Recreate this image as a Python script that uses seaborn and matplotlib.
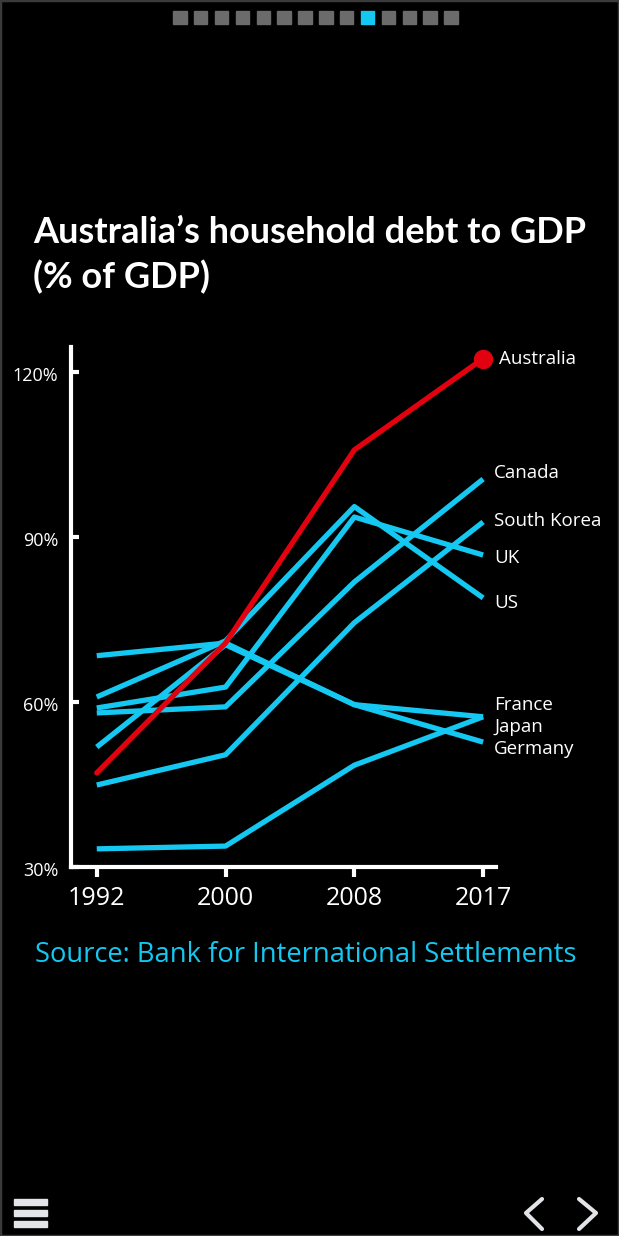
import numpy as np
import pandas as pd
import matplotlib
matplotlib.use('Agg')
import matplotlib.pyplot as plt
import matplotlib.transforms as mtransforms
from matplotlib.patches import Rectangle
from matplotlib.lines import Line2D
import seaborn as sns

# Data (% of GDP)
years = ['1992', '2000', '2008', '2017']
countries = ['Canada', 'UK', 'US', 'South Korea', 'Japan', 'Germany', 'France', 'Australia']
canada = [58.0, 59.1, 81.8, 100.5]
uk = [58.9, 62.7, 93.6, 86.7]
us = [60.9, 71.1, 95.5, 78.9]
south_korea = [44.9, 50.4, 74.4, 92.7]
japan = [68.4, 70.7, 59.5, 57.3]
germany = [51.8, 70.4, 59.5, 52.7]
france = [33.3, 33.8, 48.5, 57.3]
australia = [47.1, 70.7, 105.8, 122.4]

series = [canada, uk, us, south_korea, japan, germany, france, australia]
label_names = ['Australia', 'Canada', 'South Korea', 'UK', 'US', 'France', 'Japan', 'Germany']
label_y = [122.4, 101.6, 92.8, 86.2, 78.0, 59.5, 55.5, 51.5]
y_ticks = [30, 60, 90, 120]

BLUE = '#14c8f2'
RED = '#e3000f'
SANS = ['Open Sans', 'DejaVu Sans']

rows = []
for name, vals in zip(countries, series):
    for i, v in enumerate(vals):
        rows.append({'country': name, 'pos': i, 'value': v})
df = pd.DataFrame(rows)

sns.set_style('dark')
plt.rcParams['font.family'] = SANS

fig = plt.figure(figsize=(6.19, 12.36), dpi=100, facecolor='black')
ax = fig.add_axes([71 / 619, 1 - 867 / 1236, 425 / 619, 520 / 1236])
ax.set_facecolor('black')

blue_df = df[df['country'] != 'Australia']
sns.lineplot(data=blue_df, x='pos', y='value', hue='country', units='country',
             estimator=None, palette={c: BLUE for c in countries}, linewidth=3.8,
             legend=False, ax=ax, solid_capstyle='butt')
aus_df = df[df['country'] == 'Australia']
sns.lineplot(data=aus_df, x='pos', y='value', color=RED, linewidth=3.8,
             legend=False, ax=ax, zorder=5)
ax.plot(aus_df['pos'].iloc[-1], aus_df['value'].iloc[-1], 'o', color=RED,
        markersize=13, zorder=6, clip_on=False)

ax.set_xlim(-0.2, 3.1)
ax.set_ylim(30, 124.5)
ax.set_xticks(range(len(years)))
ax.set_xticklabels(years)
ax.set_yticks(y_ticks)
ax.set_yticklabels([f'{t}%' for t in y_ticks])
ax.set_xlabel('')
ax.set_ylabel('')
ax.grid(False)

for side in ['top', 'right']:
    ax.spines[side].set_visible(False)
for side in ['left', 'bottom']:
    ax.spines[side].set_visible(True)
    ax.spines[side].set_color('white')
    ax.spines[side].set_linewidth(3)

ax.tick_params(axis='x', direction='out', length=7, width=3, color='white',
               labelcolor='white', labelsize=18, pad=7, bottom=True)
ax.tick_params(axis='y', direction='in', length=6, width=3, color='white',
               labelcolor='white', labelsize=13, pad=9, left=True)
shift = mtransforms.ScaledTranslation(0, -4 / 100, fig.dpi_scale_trans)
for lab in ax.get_yticklabels():
    lab.set_verticalalignment('center')
    lab.set_transform(lab.get_transform() + shift)

# labels at line ends
for name, y in zip(label_names, label_y):
    xp = 3.12 if name == 'Australia' else 3.085
    ax.text(xp, y, name, color='white', fontsize=13.5, va='center', ha='left',
            clip_on=False)

# title and source
fig.text(33 / 619, 1 - 243 / 1236, 'Australia\u2019s household debt to GDP', color='white',
         fontsize=26, fontweight='bold', ha='left', va='baseline',
         family=['Lato', 'DejaVu Sans'])
fig.text(33 / 619, 1 - 288 / 1236, '(% of GDP)', color='white',
         fontsize=26, fontweight='bold', ha='left', va='baseline',
         family=['Lato', 'DejaVu Sans'])
fig.text(35 / 619, 1 - 962 / 1236, 'Source: Bank for International Settlements',
         color=BLUE, fontsize=19.7, ha='left', va='baseline')

# page indicator squares
for i in range(14):
    cx = 179.8 + i * 20.86
    col = BLUE if i == 9 else '#6b6b6b'
    fig.patches.append(Rectangle(((cx - 6.7) / 619, 1 - 24 / 1236), 13.4 / 619, 13 / 1236,
                                 transform=fig.transFigure, color=col))

# menu icon
for yb in [1199, 1210, 1221]:
    fig.patches.append(Rectangle((14 / 619, 1 - (yb + 6) / 1236), 33 / 619, 6 / 1236,
                                 transform=fig.transFigure, color='#e2e4e8'))
# arrows
for xs, ys in [([542, 526, 542], [1199, 1213, 1229]), ([579, 596, 579], [1199, 1213, 1229])]:
    fig.lines.append(Line2D([x / 619 for x in xs], [1 - y / 1236 for y in ys],
                            transform=fig.transFigure, color='#e2e4e8', linewidth=3))

# frame
fig.patches.append(Rectangle((0, 0), 1, 1, transform=fig.transFigure, fill=False,
                             edgecolor='#3a3a3a', linewidth=2.5))

fig.savefig('out.png', dpi=100, facecolor='black')
